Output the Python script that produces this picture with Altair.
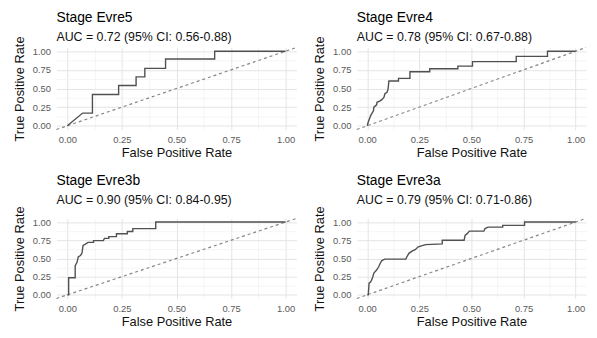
import altair as alt
import pandas as pd

TITLES = ["Stage Evre5", "Stage Evre4", "Stage Evre3b", "Stage Evre3a"]
SUBTITLES = [
    "AUC = 0.72 (95% CI: 0.56-0.88)",
    "AUC = 0.78 (95% CI: 0.67-0.88)",
    "AUC = 0.90 (95% CI: 0.84-0.95)",
    "AUC = 0.79 (95% CI: 0.71-0.86)",
]

FPR_EVRE5 = [0, 0.07, 0.115, 0.115, 0.235, 0.235, 0.315, 0.315, 0.355, 0.355, 0.45, 0.45, 0.675, 0.675, 1.0]
TPR_EVRE5 = [0, 0.17, 0.17, 0.42, 0.42, 0.54, 0.54, 0.655, 0.655, 0.77, 0.77, 0.895, 0.895, 1.0, 1.0]

FPR_EVRE4 = [0, 0.005, 0.017, 0.03, 0.032, 0.045, 0.047, 0.06, 0.07, 0.08, 0.085, 0.095, 0.10, 0.104,
             0.15, 0.15, 0.205, 0.205, 0.30, 0.30, 0.435, 0.435, 0.505, 0.505, 0.715, 0.715, 0.865, 0.865, 1.0]
TPR_EVRE4 = [0, 0.05, 0.14, 0.20, 0.25, 0.28, 0.315, 0.33, 0.35, 0.38, 0.43, 0.45, 0.49, 0.60,
             0.60, 0.635, 0.635, 0.725, 0.725, 0.765, 0.765, 0.80, 0.80, 0.86, 0.86, 0.93, 0.93, 1.0, 1.0]

FPR_EVRE3B = [0, 0.006, 0.006, 0.036, 0.036, 0.045, 0.05, 0.06, 0.067, 0.072, 0.085, 0.095, 0.12, 0.12,
              0.165, 0.17, 0.19, 0.19, 0.225, 0.225, 0.275, 0.275, 0.30, 0.30, 0.405, 0.405, 1.0]
TPR_EVRE3B = [0, 0, 0.235, 0.235, 0.40, 0.45, 0.52, 0.54, 0.57, 0.68, 0.70, 0.72, 0.72, 0.745,
              0.745, 0.775, 0.775, 0.80, 0.80, 0.84, 0.84, 0.87, 0.87, 0.91, 0.91, 1.0, 1.0]

FPR_EVRE3A = [0, 0.005, 0.009, 0.017, 0.025, 0.032, 0.045, 0.055, 0.062, 0.07, 0.085, 0.185, 0.19, 0.20,
              0.215, 0.23, 0.245, 0.28, 0.36, 0.36, 0.465, 0.47, 0.48, 0.49, 0.56, 0.565, 0.58, 0.65,
              0.65, 0.755, 0.755, 1.0]
TPR_EVRE3A = [0, 0.0, 0.16, 0.18, 0.23, 0.30, 0.34, 0.385, 0.43, 0.47, 0.49, 0.49, 0.52, 0.57,
              0.60, 0.62, 0.66, 0.69, 0.70, 0.75, 0.75, 0.82, 0.84, 0.875, 0.875, 0.91, 0.93, 0.93,
              0.955, 0.955, 1.0, 1.0]

CURVES = [(FPR_EVRE5, TPR_EVRE5), (FPR_EVRE4, TPR_EVRE4), (FPR_EVRE3B, TPR_EVRE3B), (FPR_EVRE3A, TPR_EVRE3A)]

TICKS = [0, 0.125, 0.25, 0.375, 0.5, 0.625, 0.75, 0.875, 1.0]
DOMAIN = [-0.05, 1.05]
DIAG = [-0.05, 1.05]

FONT = "Liberation Sans"
MAJOR_TEST = "round(datum.value * 8) % 2 === 0"
LABEL_EXPR = "round(datum.value * 8) % 2 === 0 ? format(datum.value, '.2f') : ''"


def make_axis(title, label_pad, title_pad):
    return alt.Axis(
        values=TICKS,
        labelExpr=LABEL_EXPR,
        labelOverlap=False,
        ticks=False,
        tickSize=0,
        domain=False,
        gridColor={"condition": {"test": MAJOR_TEST, "value": "#e4e4e4"}, "value": "#f1f1f1"},
        gridWidth={"condition": {"test": MAJOR_TEST, "value": 1}, "value": 0.7},
        labelColor="#5a5a5a",
        labelFontSize=9.5,
        labelFont=FONT,
        labelPadding=label_pad,
        title=title,
        titleFont=FONT,
        titleFontSize=13,
        titleFontWeight="normal",
        titleColor="#111",
        titlePadding=title_pad,
    )


def panel(i, width, height, offset):
    fpr, tpr = CURVES[i]
    df = pd.DataFrame({"fpr": fpr, "tpr": tpr, "idx": list(range(len(fpr)))})
    dg = pd.DataFrame({"v": DIAG})
    xs = alt.Scale(domain=DOMAIN, nice=False, zero=False)
    ys = alt.Scale(domain=DOMAIN, nice=False, zero=False)
    x_axis = make_axis("False Positive Rate", 5, 3)
    y_axis = make_axis("True Positive Rate", 6, 6)
    diag = alt.Chart(dg).mark_line(color="#858585", strokeDash=[3, 3], strokeWidth=1.2).encode(
        x=alt.X("v:Q", scale=xs, axis=x_axis),
        y=alt.Y("v:Q", scale=ys, axis=y_axis),
    )
    curve = alt.Chart(df).mark_line(color="#505050", strokeWidth=1.4).encode(
        x=alt.X("fpr:Q", scale=xs, axis=x_axis),
        y=alt.Y("tpr:Q", scale=ys, axis=y_axis),
        order="idx:Q",
    )
    return alt.layer(diag, curve).properties(
        width=width,
        height=height,
        title=alt.TitleParams(
            text=TITLES[i],
            subtitle=SUBTITLES[i],
            anchor="start",
            frame="group",
            font=FONT,
            fontSize=14,
            fontWeight="normal",
            color="#000",
            subtitleFont=FONT,
            subtitleFontSize=12.5,
            subtitleColor="#111",
            subtitlePadding=7,
            offset=offset,
        ),
    )


top = alt.hconcat(panel(0, 243, 83, -8), panel(1, 232, 83, -8), spacing=14)
bottom = alt.hconcat(panel(2, 243, 81, -1), panel(3, 232, 81, -1), spacing=14)
chart = (
    alt.vconcat(top, bottom, spacing=13)
    .configure(padding={"left": 5, "right": 0, "top": 0, "bottom": 0}, background="white")
    .configure_view(stroke=None)
)

chart.save("out.html", embed_options={"renderer": "svg", "actions": False})
